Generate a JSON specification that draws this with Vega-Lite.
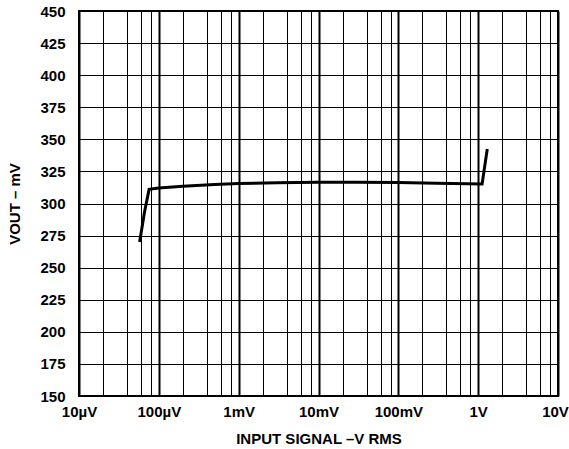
{
  "$schema": "https://vega.github.io/schema/vega-lite/v6.json",
  "width": 479,
  "height": 385,
  "autosize": {"type": "none"},
  "padding": {"left": 79, "top": 11, "right": 11, "bottom": 53},
  "background": "white",
  "config": {
    "view": {"stroke": "black", "strokeWidth": 2},
    "font": "Liberation Sans",
    "axis": {
      "labelFont": "Liberation Sans",
      "labelFontWeight": "bold",
      "labelFontSize": 15,
      "labelColor": "black",
      "titleFont": "Liberation Sans",
      "titleFontWeight": "bold",
      "titleFontSize": 15,
      "titleColor": "black",
      "ticks": false,
      "domain": false,
      "gridColor": "black",
      "gridOpacity": 1
    }
  },
  "data": {
    "values": [
      {"vin": 0.0000575, "vout": 270},
      {"vin": 0.000066, "vout": 293},
      {"vin": 0.0000755, "vout": 311},
      {"vin": 0.0001, "vout": 312},
      {"vin": 0.0002, "vout": 313.5},
      {"vin": 0.0005, "vout": 314.8},
      {"vin": 0.001, "vout": 315.5},
      {"vin": 0.003, "vout": 316.2},
      {"vin": 0.01, "vout": 316.6},
      {"vin": 0.03, "vout": 316.6},
      {"vin": 0.1, "vout": 316.3},
      {"vin": 0.3, "vout": 315.8},
      {"vin": 1.12, "vout": 315.2},
      {"vin": 1.3, "vout": 342.5}
    ]
  },
  "mark": {"type": "line", "color": "black", "strokeWidth": 3, "strokeJoin": "miter", "clip": true},
  "encoding": {
    "x": {
      "field": "vin",
      "type": "quantitative",
      "scale": {"type": "log", "domain": [0.00001, 10], "nice": false},
      "axis": {
        "title": "INPUT SIGNAL –V RMS",
        "titlePadding": 12,
        "labelPadding": 8,
        "labelFlush": false,
        "labelOverlap": false,
        "values": [0.00001, 0.00002, 0.00004, 0.00006, 0.00008,
                   0.0001, 0.0002, 0.0004, 0.0006, 0.0008,
                   0.001, 0.002, 0.004, 0.006, 0.008,
                   0.01, 0.02, 0.04, 0.06, 0.08,
                   0.1, 0.2, 0.4, 0.6, 0.8,
                   1, 2, 4, 6, 8, 10],
        "labelExpr": "abs(log(datum.value)/LN10 - round(log(datum.value)/LN10)) > 0.01 ? '' : ['10µV','100µV','1mV','10mV','100mV','1V','10V'][round(log(datum.value)/LN10)+5]",
        "labelOffset": {"condition": {"test": "datum.value > 9", "value": -3}, "value": 0},
        "gridWidth": {"condition": {"test": "abs(log(datum.value)/LN10 - round(log(datum.value)/LN10)) < 0.01", "value": 2}, "value": 1}
      }
    },
    "y": {
      "field": "vout",
      "type": "quantitative",
      "scale": {"domain": [150, 450], "nice": false, "zero": false},
      "axis": {
        "title": "VOUT  – mV",
        "titlePadding": 17,
        "labelPadding": 14,
        "values": [150, 175, 200, 225, 250, 275, 300, 325, 350, 375, 400, 425, 450],
        "gridWidth": 1.2
      }
    }
  }
}
